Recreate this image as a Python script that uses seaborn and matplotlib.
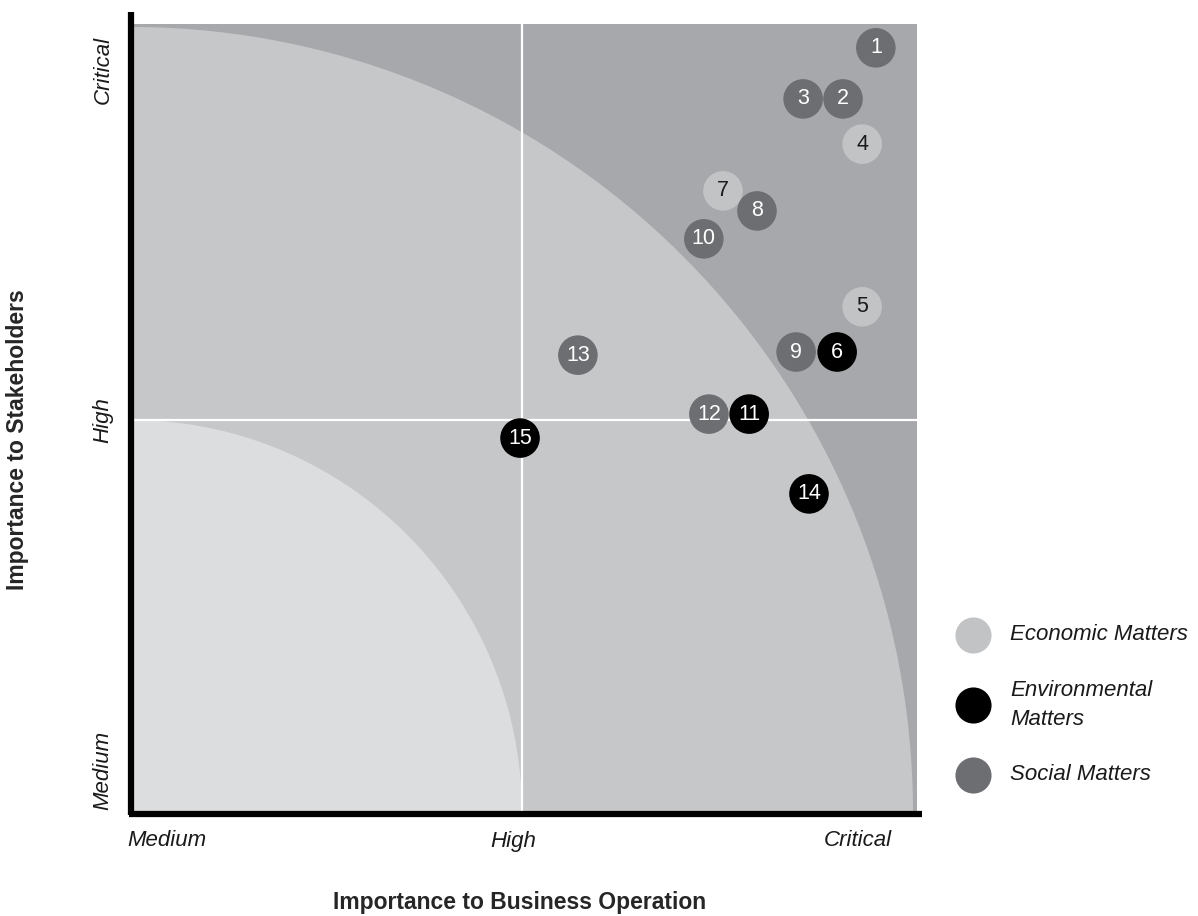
import numpy as np
import pandas as pd
import matplotlib
matplotlib.use("Agg")
import matplotlib.pyplot as plt
import seaborn as sns
from matplotlib.lines import Line2D

# Materiality matrix: 0 = Medium, 1 = High, 2 = Critical
ids = [1, 2, 3, 4, 5, 6, 7, 8, 9, 10, 11, 12, 13, 14, 15]
business = [1.905, 1.821, 1.719, 1.870, 1.870, 1.806, 1.514, 1.601, 1.701,
            1.465, 1.581, 1.478, 1.143, 1.734, 0.995]
stakeholders = [1.947, 1.817, 1.817, 1.702, 1.288, 1.173, 1.583, 1.532, 1.173,
                1.461, 1.015, 1.015, 1.165, 0.812, 0.954]
category = ["Social", "Social", "Social", "Economic", "Economic", "Environmental",
            "Economic", "Social", "Social", "Social", "Environmental", "Social",
            "Social", "Environmental", "Environmental"]

legend_labels = ["Economic Matters", "Environmental\nMatters", "Social Matters"]
levels = ["Medium", "High", "Critical"]

palette = {"Economic": "#c2c3c5", "Environmental": "#000000", "Social": "#6d6e71"}
text_colour = {"Economic": "#1a1a1a", "Environmental": "white", "Social": "white"}

df = pd.DataFrame({"id": ids, "business": business,
                   "stakeholders": stakeholders, "category": category})

sns.set_theme(style="white")
plt.rcParams["font.family"] = ["Liberation Sans", "DejaVu Sans"]

fig = plt.figure(figsize=(11.98, 9.16), dpi=100)
W, H = 1198, 916
ax = fig.add_axes([131 / W, (916 - 813) / H, 786 / W, 789 / H])

xmax, ymax = 786 / 391, 789 / 393
ax.set_xlim(0, xmax)
ax.set_ylim(0, ymax)

# zone shading: dark background, two quarter-circle bands
ax.set_facecolor("#a7a8ab")
theta = np.linspace(0, np.pi / 2, 400)
for r, c in [(2.0, "#c6c7c9"), (1.0, "#dcdddf")]:
    xs = np.concatenate([[0], r * np.cos(theta), [0]])
    ys = np.concatenate([[0], r * np.sin(theta), [0]])
    ax.fill(xs, ys, color=c, lw=0, zorder=0.5)

ax.axvline(1, color="white", lw=1.6, zorder=1)
ax.axhline(1, color="white", lw=1.6, zorder=1)

sns.scatterplot(data=df, x="business", y="stakeholders", hue="category",
                palette=palette, s=28.5 ** 2, linewidth=0, legend=False,
                ax=ax, zorder=3)
for _, row in df.iterrows():
    ax.text(row.business, row.stakeholders, str(row.id), ha="center",
            va="center", fontsize=15.5, color=text_colour[row.category],
            zorder=4)

for s in ax.spines.values():
    s.set_visible(False)
ax.set_xticks([])
ax.set_yticks([])
ax.set_xlabel("")
ax.set_ylabel("")

# heavy axis lines extending past the shaded area
fig.add_artist(Line2D([131 / W, 131 / W], [1 - 12 / H, 1 - 815 / H],
                      color="black", lw=4.5, solid_capstyle="butt",
                      transform=fig.transFigure))
fig.add_artist(Line2D([128.5 / W, 922 / W], [1 - 813.5 / H, 1 - 813.5 / H],
                      color="black", lw=4.5, solid_capstyle="butt",
                      transform=fig.transFigure))

# level labels
tick_kw = dict(fontsize=16, style="italic", color="#1a1a1a")
fig.text(127 / W, 1 - 841 / H, levels[0], ha="left", va="center", **tick_kw)
fig.text(513 / W, 1 - 841 / H, levels[1], ha="center", va="center", **tick_kw)
fig.text(892 / W, 1 - 841 / H, levels[2], ha="right", va="center", **tick_kw)
fig.text(103 / W, 1 - 810 / H, levels[0], ha="center", va="bottom",
         rotation=90, **tick_kw)
fig.text(103 / W, 1 - 420 / H, levels[1], ha="center", va="center",
         rotation=90, **tick_kw)
fig.text(103 / W, 1 - 36 / H, levels[2], ha="center", va="top",
         rotation=90, **tick_kw)

fig.text(520 / W, 1 - 903 / H, "Importance to Business Operation",
         ha="center", va="center", fontsize=16.5, weight="bold")
fig.text(18 / W, 1 - 440 / H, "Importance to Stakeholders",
         ha="center", va="center", fontsize=16.5, weight="bold", rotation=90)

# legend
leg_y = [635, 705, 775]
for lab, key, yy in zip(legend_labels, ["Economic", "Environmental", "Social"],
                        leg_y):
    ax.scatter([973 / W], [1 - yy / H], s=26 ** 2, color=palette[key],
               linewidths=0, transform=fig.transFigure, clip_on=False)
    fig.text(1010 / W, 1 - yy / H, lab, ha="left", va="center",
             fontsize=16, style="italic", color="#1a1a1a", linespacing=1.55)

fig.savefig("out.png", dpi=100)
